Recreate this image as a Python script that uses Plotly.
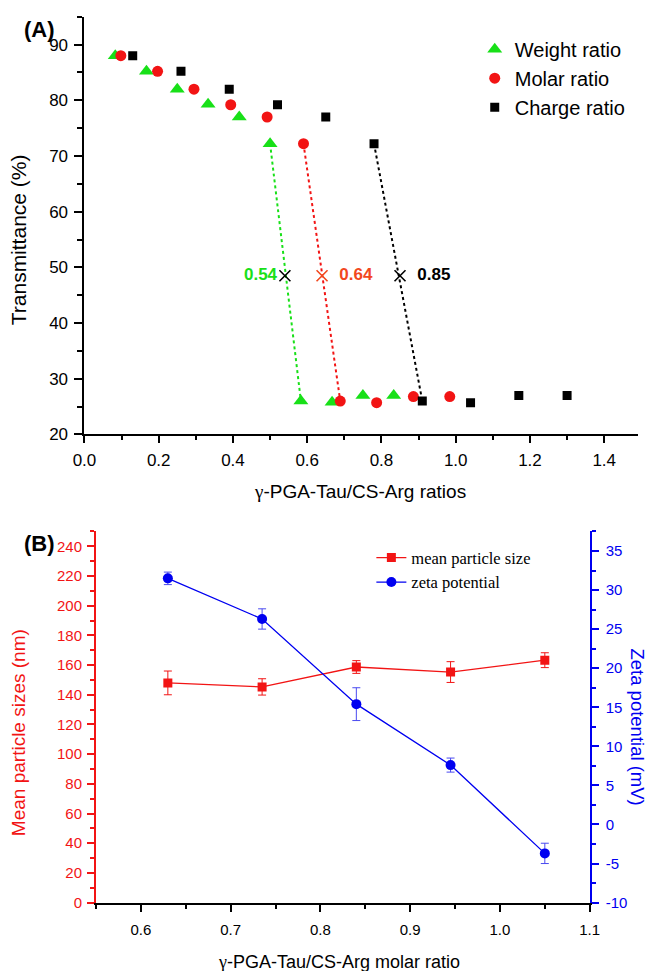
import plotly.graph_objects as go

# ---------------- (A) transmittance vs. mixing ratio ----------------
weight_x = [0.083, 0.167, 0.250, 0.333, 0.417, 0.500, 0.583, 0.667, 0.750, 0.833]
weight_t = [88.0, 85.2, 82.0, 79.3, 77.0, 72.2, 26.0, 25.8, 27.0, 27.0]

molar_x = [0.098, 0.197, 0.295, 0.394, 0.492, 0.590, 0.689, 0.787, 0.886, 0.984]
molar_t = [88.0, 85.2, 82.0, 79.2, 77.0, 72.2, 26.0, 25.7, 26.8, 26.8]

charge_x = [0.130, 0.260, 0.390, 0.520, 0.650, 0.780, 0.910, 1.040, 1.170, 1.300]
charge_t = [88.0, 85.2, 82.0, 79.2, 77.0, 72.2, 26.0, 25.7, 27.0, 27.0]

# index of the last point before the turbidity jump
jump = 5

# half-transmittance crossing points
cross_x = [0.54, 0.64, 0.85]
cross_t = [48.5, 48.5, 48.5]

# ---------------- (B) particle size and zeta potential ----------------
molar_ratio = [0.630, 0.735, 0.840, 0.945, 1.050]
size_nm = [148.0, 145.3, 158.7, 155.3, 163.3]
size_err = [8.0, 5.5, 4.3, 7.0, 5.0]
zeta_mv = [31.5, 26.3, 15.4, 7.6, -3.7]
zeta_err = [0.8, 1.3, 2.1, 0.9, 1.3]

zeta_ticks = [-10, -5, 0, 5, 10, 15, 20, 25, 30, 35]

GREEN = "#18e018"
RED = "#f21414"
ORANGE = "#f2481e"
BLUE = "#0000f0"
SANS = "Liberation Sans"
SERIF = "Liberation Serif"

W, H = 648, 971


def px_x(v):
    return v / W


def px_y(v):
    return 1 - v / H


fig = go.Figure()

# series markers of panel A
fig.add_trace(go.Scatter(
    x=weight_x, y=weight_t, mode="markers", name="Weight ratio",
    marker=dict(symbol="triangle-up", size=13, color=GREEN),
    xaxis="x", yaxis="y", legend="legend"))
fig.add_trace(go.Scatter(
    x=molar_x, y=molar_t, mode="markers", name="Molar ratio",
    marker=dict(symbol="circle", size=11, color=RED),
    xaxis="x", yaxis="y", legend="legend"))
fig.add_trace(go.Scatter(
    x=charge_x, y=charge_t, mode="markers", name="Charge ratio",
    marker=dict(symbol="square", size=9, color="black"),
    xaxis="x", yaxis="y", legend="legend"))

# dotted connectors across the jump
for xs, ts, col in [(weight_x, weight_t, GREEN), (molar_x, molar_t, RED),
                    (charge_x, charge_t, "black")]:
    fig.add_trace(go.Scatter(
        x=xs[jump:jump + 2], y=ts[jump:jump + 2], mode="lines",
        line=dict(color=col, width=2, dash="dot"),
        showlegend=False, hoverinfo="skip", xaxis="x", yaxis="y"))

# crossing markers with their ratio labels
fig.add_trace(go.Scatter(
    x=cross_x, y=cross_t, mode="markers+text",
    text=[f"{cross_x[0]:.2f}", f"  {cross_x[1]:.2f}", f"  {cross_x[2]:.2f}"],
    textposition=["middle left", "middle right", "middle right"],
    textfont=dict(family=SANS, size=17, color=[GREEN, ORANGE, "black"],
                  weight="bold"),
    marker=dict(symbol="x-thin", size=11,
                line=dict(width=1.6, color=["black", ORANGE, "black"])),
    showlegend=False, xaxis="x", yaxis="y"))

# panel B series
fig.add_trace(go.Scatter(
    x=molar_ratio, y=size_nm, mode="lines+markers", name="mean particle size",
    line=dict(color=RED, width=1.3),
    marker=dict(symbol="square", size=9, color=RED),
    error_y=dict(type="data", array=size_err, color=RED, thickness=1, width=4),
    xaxis="x2", yaxis="y2", legend="legend2"))
fig.add_trace(go.Scatter(
    x=molar_ratio, y=zeta_mv, mode="lines+markers", name="zeta potential",
    line=dict(color=BLUE, width=1.3),
    marker=dict(symbol="circle", size=10, color=BLUE),
    error_y=dict(type="data", array=zeta_err, color="#4a4af0", thickness=1, width=4),
    xaxis="x2", yaxis="y3", legend="legend2"))

tick_a = dict(family=SANS, size=17, color="black")

fig.update_layout(
    width=W, height=H,
    margin=dict(l=0, r=0, t=0, b=0),
    paper_bgcolor="white", plot_bgcolor="white",
    font=dict(family=SANS, color="black"),
    xaxis=dict(
        domain=[px_x(75), 1.0], range=[0, 573 / 384.3], anchor="y",
        showline=True, linecolor="black", linewidth=2,
        ticks="outside", ticklen=7, tickwidth=1.5, tickcolor="black",
        tick0=0, dtick=0.2, tickformat=".1f", tickfont=tick_a,
        ticklabelstandoff=2,
        minor=dict(ticks="outside", ticklen=4, tickwidth=1.5,
                   tickcolor="black", tick0=0, dtick=0.1),
        showgrid=False, zeroline=False),
    yaxis=dict(
        domain=[px_y(439), px_y(16.9)], range=[20, 95], anchor="x",
        showline=True, linecolor="black", linewidth=2,
        ticks="outside", ticklen=8, tickwidth=1.5, tickcolor="black",
        tick0=0, dtick=10, tickfont=tick_a, ticklabelstandoff=3,
        minor=dict(ticks="outside", ticklen=5, tickwidth=1.5,
                   tickcolor="black", tick0=0, dtick=5),
        showgrid=False, zeroline=False),
    xaxis2=dict(
        domain=[px_x(87), px_x(598)], range=[0.55, 1.1], anchor="y2",
        showline=True, linecolor="black", linewidth=2,
        ticks="outside", ticklen=7, tickwidth=1.5, tickcolor="black",
        tick0=0, dtick=0.1, tickformat=".1f", ticklabelstandoff=5,
        tickfont=dict(family=SANS, size=15, color="black"),
        minor=dict(ticks="outside", ticklen=4, tickwidth=1.5,
                   tickcolor="black", tick0=0, dtick=0.05),
        showgrid=False, zeroline=False),
    yaxis2=dict(
        domain=[px_y(912), px_y(537)], range=[0, 250], anchor="x2",
        showline=True, linecolor=RED, linewidth=2,
        ticks="outside", ticklen=7, tickwidth=1.5, tickcolor=RED,
        tick0=0, dtick=20, ticklabelstandoff=2,
        tickfont=dict(family=SANS, size=15, color=RED),
        minor=dict(ticks="outside", ticklen=4, tickwidth=1.5,
                   tickcolor=RED, tick0=0, dtick=10),
        showgrid=False, zeroline=False),
    yaxis3=dict(
        overlaying="y2", side="right", anchor="x2", range=[-10, 37.5],
        showline=True, linecolor=BLUE, linewidth=2,
        ticks="outside", ticklen=7, tickwidth=1.5, tickcolor=BLUE,
        tickmode="array", tickvals=zeta_ticks,
        ticktext=[str(v) for v in zeta_ticks], ticklabelstandoff=4,
        tickfont=dict(family=SANS, size=15, color=BLUE),
        minor=dict(ticks="outside", ticklen=4, tickwidth=1.5,
                   tickcolor=BLUE, tick0=0, dtick=2.5),
        showgrid=False, zeroline=False),
    legend=dict(
        x=px_x(479), y=px_y(30), xanchor="left", yanchor="top",
        font=dict(family=SANS, size=20, color="black"),
        bgcolor="rgba(0,0,0,0)", borderwidth=0, tracegroupgap=0),
    legend2=dict(
        x=px_x(372), y=px_y(546), xanchor="left", yanchor="top",
        font=dict(family=SERIF, size=16.5, color="black"),
        bgcolor="rgba(0,0,0,0)", borderwidth=0, tracegroupgap=0),
)

gamma = f'<span style="font-family:{SERIF}">γ</span>'

annotations = [
    dict(text="<b>(A)</b>", x=px_x(10), y=px_y(30), xanchor="left",
         yanchor="middle", font=dict(size=22, color="black")),
    dict(text="<b>(B)</b>", x=px_x(10), y=px_y(549), xanchor="left",
         yanchor="middle", font=dict(size=22, color="black")),
    dict(text="Transmittance (%)", x=px_x(7), y=px_y(242), textangle=-90,
         xanchor="center", yanchor="middle", font=dict(size=21, color="black")),
    dict(text=f"{gamma}-PGA-Tau/CS-Arg ratios", x=px_x(360), y=px_y(497),
         xanchor="center", yanchor="middle", font=dict(size=19, color="black")),
    dict(text="Mean particle sizes (nm)", x=px_x(7), y=px_y(740), textangle=-90,
         xanchor="center", yanchor="middle", font=dict(size=19, color=RED)),
    dict(text="Zeta potential (mV)", x=px_x(648), y=px_y(734), textangle=90,
         xanchor="center", yanchor="middle", font=dict(size=18.5, color=BLUE)),
    dict(text=f"{gamma}-PGA-Tau/CS-Arg molar ratio", x=px_x(339), y=px_y(972),
         xanchor="center", yanchor="middle", font=dict(size=18, color="black")),
]
for a in annotations:
    a.update(xref="paper", yref="paper", showarrow=False)
fig.update_layout(annotations=annotations)

fig.write_html("out.html")
